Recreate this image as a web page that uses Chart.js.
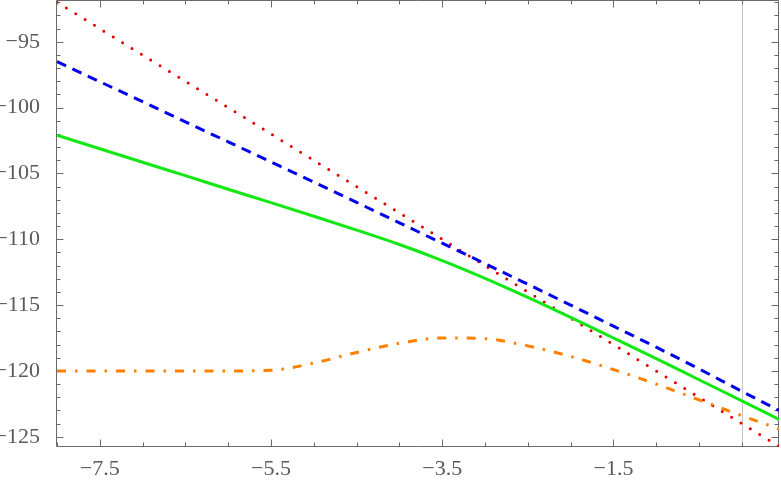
<!DOCTYPE html>
<html><head><meta charset="utf-8">
<script src="https://cdn.jsdelivr.net/npm/chart.js@4.4.1/dist/chart.umd.min.js"></script>
<style>html,body{margin:0;padding:0;background:#fff}canvas{display:block}</style>
</head><body>
<canvas id="c" width="781" height="480"></canvas>
<script>
// ---- data ----
const xValues = [-8, -7.5, -7, -6.5, -6, -5.5, -5, -4.5, -4, -3.5, -3, -2.5, -2, -1.5, -1, -0.5, 0, 0.434];
const redDotted = [-92, -94, -96, -98, -100, -102, -104, -106, -108, -110, -112, -114, -116, -118, -120, -122, -124, -125.74];
const blueDashed = [-96.5, -98.03, -99.55, -101.08, -102.6, -104.12, -105.65, -107.2, -108.75, -110.3, -111.85, -113.42, -115.0, -116.6, -118.2, -119.85, -121.55, -123.0];
const greenSolid = [-102.1, -103.12, -104.15, -105.17, -106.2, -107.22, -108.25, -109.3, -110.4, -111.62, -112.97, -114.42, -115.94, -117.5, -119.07, -120.67, -122.27, -123.68];
const orangeDashDot = [-120.0, -120.0, -120.0, -120.0, -120.0, -119.95, -119.4, -118.6, -117.9, -117.5, -117.55, -118.1, -118.9, -119.9, -121.0, -122.2, -123.4, -124.4];
const xMajorTicks = [-7.5, -5.5, -3.5, -1.5];
const yMajorTicks = [-125, -120, -115, -110, -105, -100, -95];
const xRange = [-8, 0.434];
const yRange = [-125.78, -91.9];
const markerLineX = [0];

const toPoints = ys => xValues.map((x, i) => ({x: x, y: ys[i]}));
const minus = v => String(v).replace('-', '\u2212');
const AXIS = '#6a6a6a';

const framePlugin = {
  id: 'frameTicks',
  beforeDatasetsDraw(chart) {
    const ctx = chart.ctx, a = chart.chartArea, xs = chart.scales.x, ys = chart.scales.y;
    ctx.save();
    ctx.lineWidth = 1;
    ctx.strokeStyle = '#c4c4c4';
    markerLineX.forEach(v => {
      const px = Math.round(xs.getPixelForValue(v)) + 0.5;
      ctx.beginPath(); ctx.moveTo(px, a.top); ctx.lineTo(px, a.bottom); ctx.stroke();
    });
    ctx.strokeStyle = AXIS;
    const L = a.left - 0.5, R = a.right - 0.5, T = a.top - 0.5, B = a.bottom - 0.5;
    ctx.beginPath();
    ctx.rect(L, T, R - L, B - T);
    ctx.stroke();
    ctx.beginPath();
    for (let k = Math.ceil(xRange[0] / 0.5); k * 0.5 <= xRange[1]; k++) {
      const v = k * 0.5;
      const major = xMajorTicks.some(m => Math.abs(m - v) < 1e-9);
      const len = major ? 7 : 4;
      const px = Math.round(xs.getPixelForValue(v)) + 0.5;
      ctx.moveTo(px, B); ctx.lineTo(px, B - len);
      ctx.moveTo(px, T); ctx.lineTo(px, T + len);
    }
    for (let v = Math.ceil(yRange[0]); v <= yRange[1]; v++) {
      const major = yMajorTicks.includes(v);
      const len = major ? 7 : 4;
      const py = Math.round(ys.getPixelForValue(v)) + 0.5;
      ctx.moveTo(L, py); ctx.lineTo(L + len, py);
      ctx.moveTo(R, py); ctx.lineTo(R - len, py);
    }
    ctx.stroke();
    ctx.restore();
  }
};

const tickFont = {family: 'Liberation Serif', size: 22};

new Chart(document.getElementById('c'), {
  type: 'line',
  data: {
    datasets: [
      {label: 'orange', data: toPoints(orangeDashDot), borderColor: 'rgb(255,128,0)', borderWidth: 3,
       borderDash: [9, 9, 2.5, 9], cubicInterpolationMode: 'monotone', pointRadius: 0, fill: false},
      {label: 'green', data: toPoints(greenSolid), borderColor: 'rgb(20,232,20)', borderWidth: 3,
       cubicInterpolationMode: 'monotone', pointRadius: 0, fill: false},
      {label: 'blue', data: toPoints(blueDashed), borderColor: 'rgb(0,0,235)', borderWidth: 3,
       borderDash: [10, 7], cubicInterpolationMode: 'monotone', pointRadius: 0, fill: false},
      {label: 'red', data: toPoints(redDotted), borderColor: 'rgb(225,0,0)', borderWidth: 3,
       borderDash: [0, 11], borderCapStyle: 'round', tension: 0, pointRadius: 0, fill: false}
    ]
  },
  options: {
    responsive: false,
    animation: false,
    events: [],
    layout: {padding: {left: 0, right: 2, top: 1, bottom: 0}},
    plugins: {legend: {display: false}, tooltip: {enabled: false}},
    scales: {
      x: {
        type: 'linear', min: xRange[0], max: xRange[1],
        grid: {display: false}, border: {display: false},
        afterBuildTicks: s => { s.ticks = xMajorTicks.map(v => ({value: v})); },
        afterFit: s => { s.height = 33; s.paddingLeft = 0; s.paddingRight = 0; },
        ticks: {autoSkip: false, maxRotation: 0, padding: 1, font: tickFont, color: '#5a5a5a', callback: v => minus(v)}
      },
      y: {
        type: 'linear', min: yRange[0], max: yRange[1],
        grid: {display: false}, border: {display: false},
        afterBuildTicks: s => { s.ticks = yMajorTicks.map(v => ({value: v})); },
        afterFit: s => { s.width = 57; s.paddingTop = 0; s.paddingBottom = 0; },
        ticks: {autoSkip: false, padding: 9, font: tickFont, color: '#5a5a5a', callback: v => minus(v)}
      }
    }
  },
  plugins: [framePlugin]
});
</script>
</body></html>
